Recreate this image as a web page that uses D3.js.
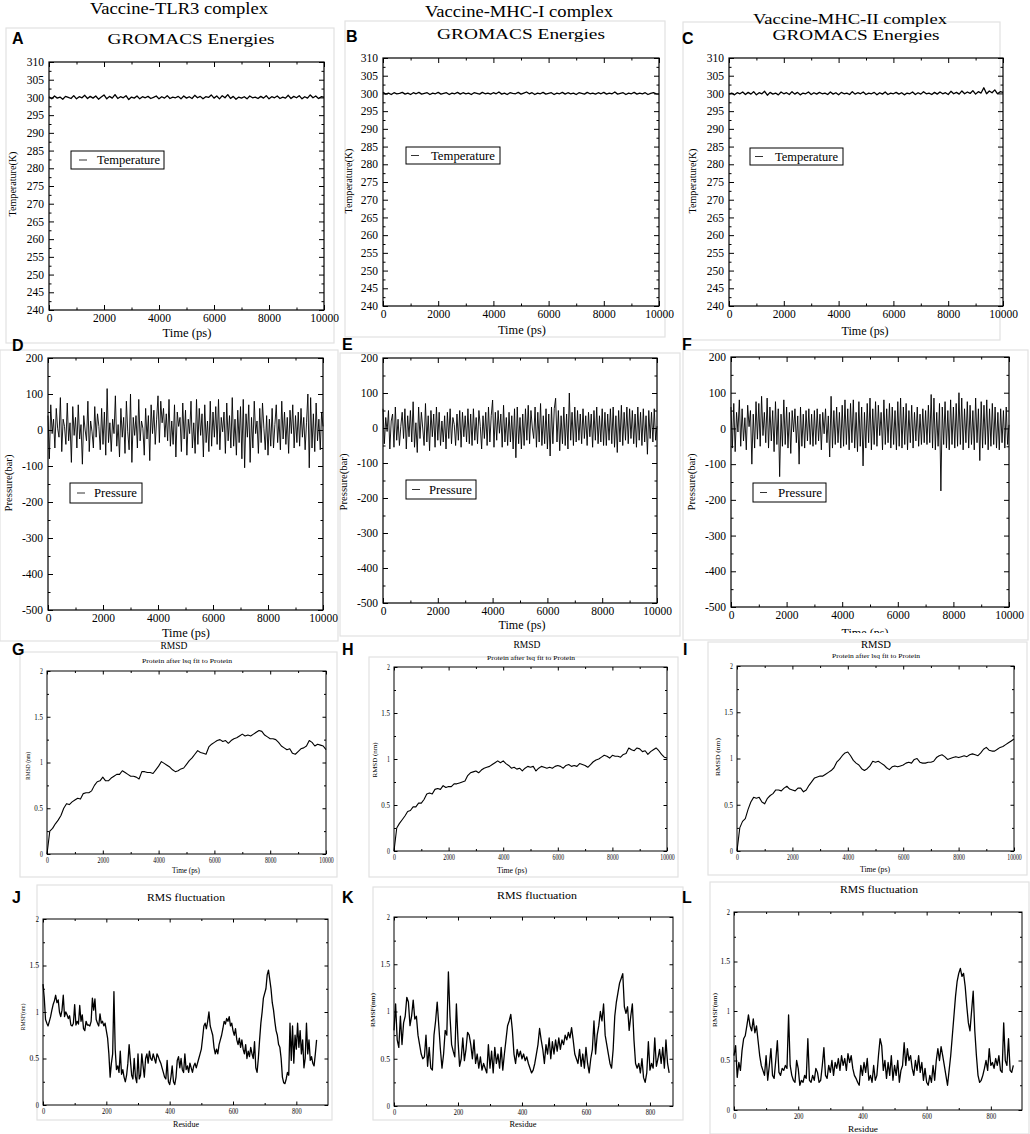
<!DOCTYPE html>
<html><head><meta charset="utf-8">
<script src="https://cdn.jsdelivr.net/npm/d3@7"></script>
<style>body{margin:0;background:#fff} svg{display:block}</style>
</head><body>
<svg id="c" width="1030" height="1134"></svg>
<script>
// ---------------- DATA ----------------
const columnTitles = ["Vaccine-TLR3 complex", "Vaccine-MHC-I complex", "Vaccine-MHC-II complex"];
const timeTicks = [0, 2000, 4000, 6000, 8000, 10000];
const tempTicks = [240, 245, 250, 255, 260, 265, 270, 275, 280, 285, 290, 295, 300, 305, 310];
const pressTicks = [-500, -400, -300, -200, -100, 0, 100, 200];
const rmsTicks = [0, 0.5, 1, 1.5, 2];
const residueTicks = [0, 200, 400, 600, 800];

// Temperature (K), every 100 ps
const tempA = [300.2,299.6,300.4,299.8,300.1,299.5,300.3,300.0,299.7,300.5,
299.6,300.2,299.9,300.6,299.7,300.3,299.8,300.4,299.5,300.1,
300.7,299.6,300.3,299.8,300.8,299.7,300.2,299.9,300.5,299.4,
300.1,299.8,300.4,299.6,300.2,299.9,300.3,299.7,300.0,300.4,
299.6,300.2,299.8,300.5,299.7,300.1,299.9,300.3,299.6,300.4,
299.8,300.2,299.7,300.6,299.9,300.3,299.6,300.2,300.0,300.7,
299.8,300.4,299.6,300.5,299.9,300.8,299.7,300.3,299.5,300.1,
299.8,300.2,299.6,300.4,299.9,300.1,299.7,300.3,299.8,300.5,
299.6,300.2,299.9,300.4,299.7,300.1,299.8,300.6,299.7,300.3,
299.9,300.5,299.6,300.2,299.8,300.7,299.9,300.4,299.7,300.2,300.1];
const tempB = [300.3,299.8,300.1,299.7,300.2,299.9,300.0,300.3,299.8,300.1,
299.7,300.2,299.9,300.3,299.8,300.0,300.2,299.7,300.1,299.9,
300.3,299.8,300.0,300.2,299.7,300.1,299.9,300.3,299.8,300.2,
299.9,300.1,299.7,300.2,300.0,299.8,300.3,299.9,300.1,299.8,
300.2,299.9,300.4,299.8,300.1,299.7,300.2,300.0,299.9,300.3,
299.8,300.1,300.4,299.9,300.2,299.7,300.1,299.9,300.3,299.8,
300.0,300.2,299.7,300.1,299.9,300.3,299.8,300.2,299.9,300.1,
299.7,300.2,300.0,299.8,300.3,299.9,300.1,299.8,300.2,299.9,
300.3,299.8,300.1,299.9,300.4,299.8,300.0,300.2,299.7,300.1,
299.9,300.3,299.8,300.1,299.9,300.2,299.7,300.0,300.2,299.9,299.8];
const tempC = [299.8,300.1,299.6,300.2,299.9,300.4,299.7,300.3,299.8,300.5,
299.6,300.2,299.9,300.6,299.5,300.3,299.8,300.1,299.6,300.4,
299.9,300.2,299.7,300.5,299.8,300.3,299.6,300.1,299.9,300.4,
299.7,300.2,299.8,300.3,299.9,300.1,299.7,300.4,299.8,300.2,
299.6,300.3,299.9,300.1,299.7,300.5,299.8,300.2,299.9,300.4,
299.7,300.1,299.9,300.3,299.6,300.2,299.8,300.4,299.7,300.1,
299.9,300.3,299.8,300.2,299.6,300.1,299.9,300.4,299.7,300.2,
299.8,300.5,299.9,300.1,299.7,300.3,299.8,300.4,299.9,300.2,
299.7,300.6,299.9,300.3,299.8,300.7,299.9,300.4,300.0,300.8,
299.8,300.5,300.1,301.6,299.9,300.7,300.2,301.0,299.9,300.5,300.3];

// Pressure (bar), every 50 ps
const pressD = [40,-80,70,-10,30,-50,60,5,-20,90,-60,30,10,-40,75,-30,20,-90,65,-15,
35,-50,70,-25,15,-95,40,0,-30,80,-60,25,-5,-50,65,-20,45,10,-55,60,
-40,50,-70,115,-35,20,-60,30,-10,95,-45,15,-75,60,-20,35,-65,80,-5,-55,
100,-90,35,-15,40,-50,85,-30,25,5,-70,60,-25,40,-85,70,-10,55,-40,30,
95,-35,80,20,60,-20,45,-30,85,-45,25,-40,70,-75,50,10,35,-60,75,-25,
55,-70,30,-10,80,-50,20,-65,85,-40,60,-15,45,-75,70,-35,25,-60,80,-45,
50,-20,65,-40,85,-55,35,-5,50,-65,75,-30,40,-50,90,-45,30,-70,55,-35,
65,-80,85,-105,45,-20,70,-90,35,-50,80,-10,25,-65,60,-35,75,5,-55,40,
-70,30,-45,60,-50,15,70,-35,30,-55,80,-25,50,-40,35,-65,55,-10,70,-50,
40,-35,50,-45,60,-20,35,-55,20,100,-105,90,-50,45,-60,75,-30,30,-55,50,10];
const pressE = [55,-45,30,-10,50,-60,20,40,-55,60,-35,25,-50,5,45,-30,55,-60,35,-25,
50,-40,75,-55,15,-70,60,-30,45,0,-50,70,-40,35,-65,50,-25,40,-55,60,
-35,45,-50,20,-40,35,-60,45,-30,55,-45,30,10,-50,40,-35,50,-55,45,-25,
35,-40,55,-45,40,-50,55,-35,30,-45,50,5,-60,35,-30,45,-50,60,-40,35,
80,-55,45,-35,50,-15,40,-55,65,-40,30,-50,45,-40,35,-60,55,-85,60,-45,
30,-60,40,-50,55,-35,65,-45,50,0,-30,60,-55,45,-40,70,-50,35,-45,55,
-60,40,-80,60,-45,55,85,-40,50,-65,35,-45,60,-50,40,-60,100,-35,45,-50,
60,-40,50,-35,40,-45,55,-30,35,-50,45,-25,40,-55,50,-35,60,-45,35,-40,
55,-50,45,-50,40,-35,55,-45,60,-55,35,-70,50,-40,65,-50,45,-35,60,-45,
55,-30,50,-45,40,-55,60,-35,45,-50,55,-40,35,-75,50,-30,45,-40,55,-35,5];
const pressF = [60,-55,70,-65,45,-10,80,-50,55,-35,30,-60,65,5,50,-100,40,-55,75,-30,
70,-50,90,-20,45,-40,85,-55,60,-35,50,-65,75,-45,55,-135,40,-50,80,-45,
60,-55,45,-70,50,-10,55,-40,35,-100,60,-50,40,-55,50,-35,55,-45,40,-50,
50,-45,55,-35,40,-60,45,-15,55,-40,35,-80,90,-55,50,-45,60,-40,45,-55,
65,-50,80,-45,55,-60,70,-40,80,-55,45,-65,75,-50,60,-105,45,-55,70,-40,
85,-60,55,-45,75,-50,65,-20,45,-60,80,-45,55,-40,70,-55,60,-45,50,-60,
75,-50,85,-55,60,-45,70,-60,50,-40,65,-55,45,-35,60,-50,40,-45,55,-40,
50,-45,65,-40,95,-55,85,-60,45,-50,70,-175,60,-45,75,-55,50,-60,80,-45,
60,-55,70,-50,100,-45,85,-60,55,-40,75,-55,65,-45,50,-60,85,-40,55,-90,
75,-55,65,-45,80,-60,55,-50,70,-45,60,-55,45,-60,55,-40,50,-55,60,-45,10];

// RMSD (nm), every 100 ps
const rmsdG = [0.00,0.25,0.28,0.33,0.37,0.42,0.50,0.55,0.54,0.57,
0.59,0.61,0.60,0.66,0.67,0.67,0.69,0.75,0.79,0.80,
0.84,0.80,0.80,0.83,0.85,0.87,0.87,0.91,0.89,0.87,
0.85,0.85,0.84,0.82,0.90,0.90,0.89,0.89,0.88,0.92,
0.96,1.01,0.99,0.97,0.95,0.92,0.90,0.91,0.93,0.94,
0.98,1.02,1.05,1.09,1.13,1.11,1.10,1.09,1.17,1.20,
1.22,1.24,1.25,1.23,1.24,1.21,1.24,1.26,1.27,1.29,
1.31,1.29,1.30,1.29,1.31,1.33,1.35,1.34,1.30,1.28,
1.26,1.26,1.25,1.22,1.18,1.16,1.14,1.15,1.10,1.09,
1.12,1.15,1.16,1.18,1.24,1.22,1.18,1.20,1.19,1.18,1.14];
const rmsdH = [0.00,0.25,0.30,0.34,0.38,0.43,0.44,0.48,0.48,0.52,
0.52,0.56,0.62,0.63,0.62,0.67,0.68,0.67,0.71,0.69,
0.70,0.70,0.73,0.73,0.74,0.75,0.76,0.82,0.85,0.86,
0.87,0.85,0.88,0.90,0.91,0.92,0.94,0.96,0.98,0.96,
0.98,0.95,0.93,0.90,0.91,0.89,0.90,0.87,0.90,0.92,
0.91,0.92,0.87,0.90,0.92,0.91,0.90,0.91,0.90,0.92,
0.93,0.92,0.90,0.93,0.94,0.92,0.93,0.92,0.95,0.94,
0.93,0.91,0.94,0.97,0.99,1.00,1.02,1.04,1.03,1.01,
1.04,1.03,1.03,1.02,1.05,1.06,1.12,1.10,1.09,1.12,
1.11,1.08,1.09,1.05,1.08,1.10,1.12,1.09,1.05,1.02,1.01];
const rmsdI = [0.00,0.25,0.32,0.35,0.45,0.53,0.58,0.57,0.58,0.53,
0.51,0.57,0.60,0.62,0.66,0.66,0.65,0.68,0.70,0.67,
0.66,0.65,0.68,0.68,0.64,0.66,0.71,0.75,0.79,0.80,
0.81,0.81,0.83,0.85,0.87,0.90,0.96,0.99,1.03,1.06,
1.07,1.03,0.98,0.95,0.93,0.89,0.87,0.89,0.92,0.97,
0.96,0.97,0.95,0.93,0.90,0.88,0.91,0.92,0.91,0.92,
0.93,0.95,0.96,0.95,0.99,1.00,0.96,0.95,0.95,0.96,
0.96,0.97,1.01,1.03,1.04,1.02,0.99,1.00,1.01,1.02,
1.01,1.02,1.03,1.02,1.04,1.05,1.04,1.03,1.06,1.10,
1.12,1.09,1.08,1.08,1.10,1.12,1.13,1.15,1.17,1.19,1.21];

// RMSF (nm); J every 4 residues, K and L every 5 residues
const rmsfJ = [1.30,1.15,0.92,0.88,0.85,0.90,0.95,1.02,1.08,1.12,
1.18,1.10,1.13,1.00,0.95,1.02,1.18,0.95,1.00,0.97,
0.93,0.96,0.86,0.85,0.88,1.08,0.86,0.90,0.87,1.07,
0.90,0.97,0.82,0.80,0.90,0.86,0.86,0.85,0.90,1.15,
1.02,1.14,0.92,0.88,0.85,0.98,0.88,0.90,0.85,0.88,
0.80,0.72,0.55,0.30,0.45,0.55,1.22,0.60,0.38,0.42,
0.35,0.58,0.33,0.38,0.30,0.25,0.32,0.45,0.65,0.48,
0.32,0.28,0.50,0.30,0.24,0.55,0.28,0.32,0.55,0.42,
0.30,0.50,0.55,0.45,0.58,0.50,0.48,0.55,0.50,0.45,
0.55,0.52,0.48,0.45,0.40,0.35,0.30,0.28,0.48,0.25,
0.22,0.30,0.42,0.25,0.22,0.30,0.48,0.52,0.40,0.50,
0.38,0.35,0.55,0.38,0.42,0.35,0.45,0.40,0.35,0.42,
0.45,0.40,0.45,0.50,0.55,0.60,0.72,0.85,0.88,0.82,
0.90,1.00,0.85,0.80,0.75,0.62,0.55,0.60,0.55,0.65,
0.70,0.75,0.82,0.90,0.87,0.93,0.90,0.95,0.85,0.88,
0.80,0.75,0.82,0.70,0.65,0.72,0.62,0.70,0.60,0.55,
0.65,0.50,0.58,0.52,0.62,0.55,0.50,0.68,0.40,0.35,
0.50,0.70,0.88,1.00,1.15,1.20,1.25,1.40,1.45,1.35,
1.25,1.10,1.02,0.90,0.80,0.75,0.65,0.62,0.50,0.30,
0.24,0.23,0.28,0.35,0.32,0.88,0.48,0.85,0.45,0.75,
0.60,0.88,0.62,0.80,0.55,0.70,0.40,0.50,0.88,0.55,
0.70,0.48,0.52,0.45,0.42,0.55,0.70];
const rmsfK = [0.80,1.08,0.70,0.62,0.95,0.65,0.88,0.95,1.15,1.10,
0.85,0.95,1.12,0.92,0.95,0.75,0.65,0.55,0.50,0.52,
0.75,0.42,0.62,0.40,0.38,0.75,0.90,1.10,0.85,0.60,
0.40,0.55,0.80,0.75,1.42,0.95,0.65,0.58,0.52,1.08,
0.70,0.42,0.50,0.72,0.48,0.60,0.78,0.75,0.65,0.50,
0.70,0.45,0.55,0.40,0.52,0.38,0.45,0.40,0.35,0.65,
0.40,0.58,0.35,0.62,0.45,0.55,0.40,0.62,0.38,0.55,
0.70,0.85,0.90,0.97,0.80,0.55,0.45,0.60,0.52,0.58,
0.50,0.55,0.48,0.52,0.45,0.40,0.35,0.38,0.45,0.55,
0.65,0.82,0.70,0.60,0.45,0.65,0.55,0.72,0.50,0.68,
0.55,0.70,0.58,0.72,0.60,0.70,0.65,0.75,0.70,0.78,
0.72,0.83,0.70,0.55,0.50,0.45,0.60,0.42,0.55,0.40,
0.62,0.45,0.35,0.50,0.60,0.90,0.55,0.75,0.85,1.00,
0.90,1.08,0.75,0.65,0.55,0.45,0.40,0.60,0.95,1.10,
1.20,1.30,1.35,1.40,1.05,0.98,1.05,0.80,0.95,1.08,
0.70,0.45,0.40,0.45,0.35,0.50,0.30,0.25,0.35,0.68,
0.38,0.45,0.40,0.72,0.42,0.50,0.60,0.45,0.62,0.40,
0.70,0.45,0.35];
const rmsfL = [0.55,0.65,0.33,0.48,0.40,0.60,0.72,0.75,0.85,0.96,
0.85,0.80,0.92,0.78,0.85,0.70,0.55,0.45,0.40,0.35,
0.55,0.30,0.45,0.62,0.35,0.32,0.50,0.70,0.38,0.35,
0.42,0.40,0.45,0.42,0.96,0.45,0.35,0.30,0.28,0.50,
0.42,0.25,0.30,0.28,0.35,0.32,0.72,0.30,0.28,0.35,
0.30,0.42,0.38,0.28,0.30,0.45,0.63,0.35,0.32,0.45,
0.38,0.50,0.35,0.48,0.42,0.52,0.40,0.55,0.45,0.52,
0.40,0.57,0.48,0.55,0.42,0.35,0.32,0.28,0.25,0.45,
0.35,0.48,0.38,0.52,0.30,0.35,0.28,0.45,0.30,0.35,
0.55,0.72,0.65,0.40,0.50,0.32,0.48,0.35,0.55,0.30,
0.45,0.35,0.50,0.28,0.40,0.45,0.68,0.45,0.62,0.50,
0.55,0.42,0.35,0.50,0.40,0.55,0.38,0.48,0.30,0.42,
0.28,0.25,0.35,0.28,0.45,0.30,0.50,0.62,0.50,0.64,
0.55,0.45,0.35,0.25,0.40,0.55,0.75,0.95,1.15,1.30,
1.38,1.43,1.35,1.38,1.25,1.05,0.88,0.80,1.00,1.20,
0.80,0.55,0.35,0.28,0.30,0.35,0.42,0.50,0.40,0.62,
0.45,0.48,0.42,0.52,0.45,0.55,0.40,0.38,0.88,0.50,
0.45,0.72,0.40,0.38,0.45];

// ---------------- DRAWING ----------------
const SERIF = "Liberation Serif, Times New Roman, serif";
const SANS = "Liberation Sans, Arial, sans-serif";
const svg = d3.select('#c');
svg.append('rect').attr('width',1030).attr('height',1134).attr('fill','#fff');

// faint screenshot frames
const frames = [
  [6,28,334,343],[345,21,665,337],[683,22,1000,340],
  [0,350,338,641],[340,353,680,636],[683,350,1028,640],
  [20,652,337,877],[369,657,678,877],[708,642,1027,875],
  [37,885,332,1120],[373,887,683,1120],[710,882,1029,1134]
];
svg.selectAll('rect.fr').data(frames).join('rect').attr('class','fr')
  .attr('x',d=>d[0]).attr('y',d=>d[1]).attr('width',d=>d[2]-d[0]).attr('height',d=>d[3]-d[1])
  .attr('fill','none').attr('stroke','#e2e2e2').attr('stroke-width',1.2);

function txt(x, y, s, o) {
  o = o || {};
  const t = svg.append('text').attr('x', x).attr('y', y).text(s)
    .attr('font-family', o.family || SERIF).attr('font-size', o.size || 12)
    .attr('text-anchor', o.anchor || 'middle').attr('fill', '#000');
  if (o.weight) t.attr('font-weight', o.weight);
  if (o.len) t.attr('textLength', o.len).attr('lengthAdjust', 'spacingAndGlyphs');
  if (o.rot) t.attr('transform', `rotate(-90,${x},${y})`);
  return t;
}

function drawPlot(c) {
  const [l, t, r, b] = c.box;
  const x = d3.scaleLinear().domain(c.xDomain).range([l, r]);
  const y = d3.scaleLinear().domain(c.yDomain).range([b, t]);
  const g = svg.append('g');
  const xs = c.ys.map((d, i) => i * c.step);
  g.append('path').datum(c.ys)
    .attr('d', d3.line().x((d, i) => x(xs[i])).y(d => y(d)))
    .attr('fill', 'none').attr('stroke', '#000').attr('stroke-width', c.sw)
    .attr('stroke-linejoin', 'round');
  const fmt = d => String(d);
  const mk = (axis, pos, vals, size, labels, pad) => {
    const a = axis.tickValues(vals).tickSize(-size).tickSizeOuter(0)
      .tickPadding(pad || 0).tickFormat(labels ? fmt : () => '');
    const gg = g.append('g').attr('transform', pos).call(a);
    gg.select('.domain').remove();
    gg.attr('font-family', SERIF).attr('font-size', c.fs);
    gg.selectAll('line').attr('stroke', '#000').attr('stroke-width', c.tw || 1);
    gg.selectAll('text').attr('fill', '#000').attr('font-family', SERIF);
    if (labels && c.cw) gg.selectAll('text').attr('textLength', d => fmt(d).length * c.cw).attr('lengthAdjust', 'spacingAndGlyphs');
    return gg;
  };
  const xMinor = c.xMajor.slice(0, -1).map((v, i) => (v + c.xMajor[i + 1]) / 2);
  const yMinor = c.yMajor.slice(0, -1).map((v, i) => (v + c.yMajor[i + 1]) / 2);
  mk(d3.axisBottom(x), `translate(0,${b})`, c.xMajor, c.tM, true, c.xPad);
  mk(d3.axisBottom(x), `translate(0,${b})`, xMinor, c.tm, false);
  mk(d3.axisTop(x), `translate(0,${t})`, c.xMajor, c.tM, false);
  mk(d3.axisTop(x), `translate(0,${t})`, xMinor, c.tm, false);
  mk(d3.axisLeft(y), `translate(${l},0)`, c.yMajor, c.tM, true, c.yPad);
  mk(d3.axisLeft(y), `translate(${l},0)`, yMinor, c.tm, false);
  mk(d3.axisRight(y), `translate(${r},0)`, c.yMajor, c.tM, false);
  mk(d3.axisRight(y), `translate(${r},0)`, yMinor, c.tm, false);
  g.append('rect').attr('x', l).attr('y', t).attr('width', r - l).attr('height', b - t)
    .attr('fill', 'none').attr('stroke', '#000').attr('stroke-width', c.fw || 1.2);
}

function legend(box, label, lineX) {
  const [x0, y0, x1, y1] = box;
  svg.append('rect').attr('x', x0).attr('y', y0).attr('width', x1 - x0).attr('height', y1 - y0)
    .attr('fill', '#fff').attr('stroke', '#000').attr('stroke-width', 1);
  const ym = (y0 + y1) / 2;
  svg.append('line').attr('x1', lineX[0]).attr('x2', lineX[1]).attr('y1', ym).attr('y2', ym)
    .attr('stroke', '#333').attr('stroke-width', 1);
  txt(lineX[2], ym + 4, label, {anchor: 'start', size: 12, len: lineX[3]});
}

// column headings
txt(179, 14, columnTitles[0], {size: 16, len: 178});
txt(519, 17, columnTitles[1], {size: 16, len: 188});
txt(850, 24, columnTitles[2], {size: 15.5, len: 194});
// GROMACS titles
txt(191, 44, "GROMACS Energies", {size: 15, len: 167});
txt(521, 39, "GROMACS Energies", {size: 15, len: 168});
txt(856, 40, "GROMACS Energies", {size: 14.5, len: 167});

// ---- Row 1: temperature
const tempCommon = {xDomain: [0, 10000], yDomain: [240, 310], xMajor: timeTicks, yMajor: tempTicks,
  step: 100, sw: 1.3, fs: 11.5, tM: 5, tm: 2.5, xPad: 4, yPad: 5};
drawPlot(Object.assign({}, tempCommon, {box: [49, 62, 324, 310], ys: tempA}));
drawPlot(Object.assign({}, tempCommon, {box: [383, 58, 659, 306], ys: tempB}));
drawPlot(Object.assign({}, tempCommon, {box: [729, 58, 1003, 306], ys: tempC}));
legend([71, 151, 164, 169], "Temperature", [79, 87, 97, 63]);
legend([406, 147, 500, 164], "Temperature", [411, 419, 431, 64]);
legend([750, 148, 843, 165], "Temperature", [755, 763, 775, 63]);
txt(16, 184, "Temperature(K)", {size: 11, len: 65, rot: true});
txt(352, 181, "Temperature(K)", {size: 11, len: 65, rot: true});
txt(696, 181, "Temperature(K)", {size: 11, len: 65, rot: true});
txt(187, 337, "Time (ps)", {size: 12, len: 49});
txt(522, 334, "Time (ps)", {size: 12, len: 48});
txt(865, 335, "Time (ps)", {size: 12, len: 47});

// ---- Row 2: pressure
const pressCommon = {xDomain: [0, 10000], yDomain: [-500, 200], xMajor: timeTicks, yMajor: pressTicks,
  step: 50, sw: 0.9, fs: 11.5, tM: 5, tm: 2.5, xPad: 4, yPad: 5};
drawPlot(Object.assign({}, pressCommon, {box: [48, 358, 323, 610], ys: pressD}));
drawPlot(Object.assign({}, pressCommon, {box: [383, 358, 657, 603], ys: pressE}));
drawPlot(Object.assign({}, pressCommon, {box: [731, 357, 1009, 607], ys: pressF}));
legend([70, 483, 142, 503], "Pressure", [77, 85, 94, 43]);
legend([406, 480, 476, 499], "Pressure", [412, 420, 429, 43]);
legend([753, 483, 826, 502], "Pressure", [760, 767, 778, 44]);
txt(12, 483, "Pressure(bar)", {size: 11, len: 57, rot: true});
txt(347, 482, "Pressure(bar)", {size: 11, len: 57, rot: true});
txt(695, 482, "Pressure(bar)", {size: 11, len: 57, rot: true});
txt(186, 637, "Time (ps)", {size: 12, len: 48});
txt(522, 629, "Time (ps)", {size: 12, len: 47});
svg.append('clipPath').attr('id', 'cpF').append('rect').attr('x', 700).attr('y', 600).attr('width', 330).attr('height', 33);
txt(865, 637, "Time (ps)", {size: 12, len: 47}).attr('clip-path', 'url(#cpF)');

// ---- Row 3: RMSD
const rmsdCommon = {xDomain: [0, 10000], yDomain: [0, 2], xMajor: timeTicks, yMajor: rmsTicks,
  step: 100, sw: 1.1, fs: 7.5, tM: 3.5, tm: 2, xPad: 4, yPad: 4, cw: 2.9, fw: 1};
drawPlot(Object.assign({}, rmsdCommon, {box: [47, 671, 326, 854], ys: rmsdG}));
drawPlot(Object.assign({}, rmsdCommon, {box: [394, 667, 667, 851], ys: rmsdH}));
drawPlot(Object.assign({}, rmsdCommon, {box: [737, 666, 1014, 851], ys: rmsdI}));
txt(174, 649, "RMSD", {size: 11, len: 27});
txt(527, 648, "RMSD", {size: 11, len: 27});
txt(876, 648, "RMSD", {size: 11, len: 30});
txt(187, 663, "Protein after lsq fit to Protein", {size: 6.5, len: 90});
txt(531, 660, "Protein after lsq fit to Protein", {size: 6.5, len: 88});
txt(876, 658, "Protein after lsq fit to Protein", {size: 6.5, len: 88});
txt(30, 766, "RMSD (nm)", {size: 7, len: 28, rot: true});
txt(377, 760, "RMSD (nm)", {size: 7, len: 35, rot: true});
txt(720, 757, "RMSD (nm)", {size: 7, len: 38, rot: true});
txt(186, 873, "Time (ps)", {size: 7.5, len: 28});
txt(512, 873, "Time (ps)", {size: 7.5, len: 30});
txt(875, 872, "Time (ps)", {size: 7.5, len: 30});

// ---- Row 4: RMSF
const rmsfCommon = {yDomain: [0, 2], xMajor: residueTicks, yMajor: rmsTicks,
  sw: 1.3, fs: 7.5, tM: 3.5, tm: 2, xPad: 4, yPad: 4, cw: 3.2, fw: 1};
drawPlot(Object.assign({}, rmsfCommon, {box: [43, 919, 328, 1105], xDomain: [0, 900], step: 4, ys: rmsfJ}));
drawPlot(Object.assign({}, rmsfCommon, {box: [394, 917, 673, 1106], xDomain: [0, 872], step: 5, ys: rmsfK}));
drawPlot(Object.assign({}, rmsfCommon, {box: [734, 912, 1022, 1110], xDomain: [0, 897], step: 5, ys: rmsfL}));
txt(186, 901, "RMS fluctuation", {size: 11, len: 78});
txt(537, 899, "RMS fluctuation", {size: 11, len: 80});
txt(879, 893, "RMS fluctuation", {size: 11, len: 78});
txt(25, 1017, "RMSF(nm)", {size: 7, len: 27, rot: true});
txt(375, 1010, "RMSF(nm)", {size: 7, len: 34, rot: true});
txt(717, 1010, "RMSF(nm)", {size: 7, len: 34, rot: true});
txt(186, 1127, "Residue", {size: 8, len: 26});
txt(523, 1127, "Residue", {size: 8, len: 27});
txt(863, 1132, "Residue", {size: 8, len: 30});

// ---- panel letters
const letters = [["A",12,44],["B",346,42],["C",682,44],["D",12,351],["E",342,350],["F",682,350],
  ["G",12,655],["H",342,655],["I",683,655],["J",12,903],["K",342,903],["L",682,903]];
letters.forEach(d => txt(d[1], d[2], d[0], {family: SANS, size: 16, weight: 'bold', anchor: 'start'}));
</script></body></html>
